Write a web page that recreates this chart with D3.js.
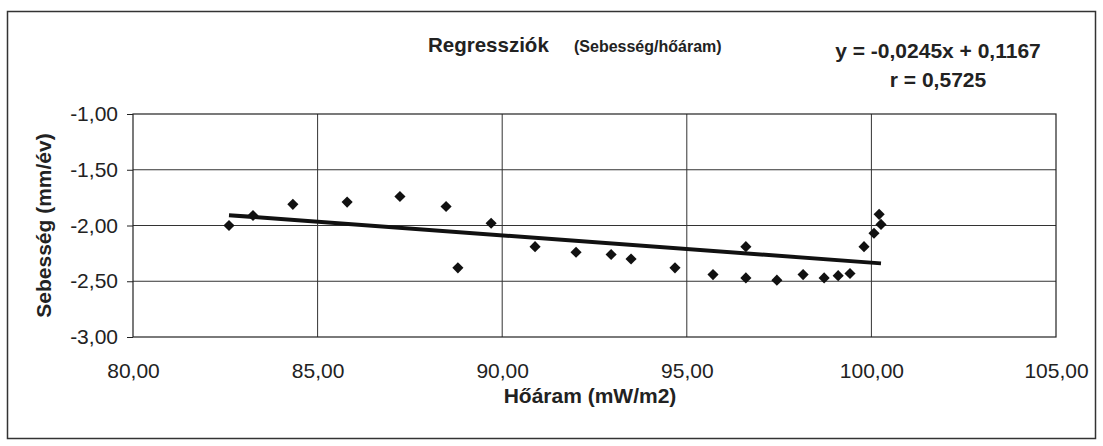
<!DOCTYPE html>
<html>
<head>
<meta charset="utf-8">
<script src="https://cdn.jsdelivr.net/npm/d3@7"></script>
<style>
  body { margin: 0; background: #fff; }
  text { font-family: "Liberation Sans", Arial, sans-serif; fill: #222; }
</style>
</head>
<body>
<div id="chart"></div>
<script>
// Data
var heatFlow = [82.60, 83.25, 84.33, 85.80, 87.23, 88.48, 88.80, 89.70, 90.89, 92.00,
                92.95, 93.49, 94.68, 95.71, 96.60, 96.60, 97.44, 98.15, 98.72, 99.10,
                99.42, 99.80, 100.07, 100.21, 100.26];
var speed = [-2.00, -1.91, -1.81, -1.79, -1.74, -1.83, -2.38, -1.98, -2.19, -2.24,
             -2.26, -2.30, -2.38, -2.44, -2.19, -2.47, -2.49, -2.44, -2.47, -2.45,
             -2.43, -2.19, -2.07, -1.90, -1.99];
var xTicks = [80, 85, 90, 95, 100, 105];
var yTicks = [-1.0, -1.5, -2.0, -2.5, -3.0];
var slope = -0.0245;
var intercept = 0.1167;
var titleText = "Regressziók";
var subtitleText = "(Sebesség/hőáram)";
var equationText = "y = -0,0245x + 0,1167";
var rText = "r = 0,5725";

var width = 1103, height = 446;
var plotLeft = 133, plotRight = 1056, plotTop = 114, plotBottom = 337;

var svg = d3.select("#chart").append("svg")
    .attr("width", width)
    .attr("height", height);

// outer frame
svg.append("rect")
    .attr("x", 7.5).attr("y", 11.5)
    .attr("width", 1088).attr("height", 427)
    .attr("fill", "none")
    .attr("stroke", "#333")
    .attr("stroke-width", 1.5);

var x = d3.scaleLinear().domain([80, 105]).range([plotLeft, plotRight]);
var y = d3.scaleLinear().domain([-3, -1]).range([plotBottom, plotTop]);

// Hungarian style numbers: comma decimal, plain hyphen minus
var fmt = function(d) {
    return (d < 0 ? "-" : "") + Math.abs(d).toFixed(2).replace(".", ",");
};

// gridlines
svg.append("g").selectAll("line")
    .data(xTicks.slice(1, -1))
    .enter().append("line")
    .attr("x1", d => x(d)).attr("x2", d => x(d))
    .attr("y1", plotTop).attr("y2", plotBottom)
    .attr("stroke", "#333").attr("stroke-width", 1);

svg.append("g").selectAll("line")
    .data(yTicks.slice(1, -1))
    .enter().append("line")
    .attr("x1", plotLeft).attr("x2", plotRight)
    .attr("y1", d => y(d)).attr("y2", d => y(d))
    .attr("stroke", "#333").attr("stroke-width", 1);

// plot frame
svg.append("rect")
    .attr("x", plotLeft).attr("y", plotTop)
    .attr("width", plotRight - plotLeft).attr("height", plotBottom - plotTop)
    .attr("fill", "none")
    .attr("stroke", "#222")
    .attr("stroke-width", 1.2);

// y axis
var yAxis = svg.append("g")
    .attr("transform", "translate(" + plotLeft + ",0)")
    .call(d3.axisLeft(y).tickValues(yTicks).tickFormat(fmt).tickSize(6).tickPadding(9));
yAxis.select(".domain").remove();
yAxis.selectAll("line").attr("stroke", "#222");
yAxis.selectAll("text")
    .style("font-family", "'Liberation Sans', Arial, sans-serif")
    .style("font-size", "21px")
    .attr("fill", "#222");

// x axis
var xAxis = svg.append("g")
    .attr("transform", "translate(0," + plotBottom + ")")
    .call(d3.axisBottom(x).tickValues(xTicks).tickFormat(fmt).tickSize(0).tickPadding(26));
xAxis.select(".domain").remove();
xAxis.selectAll("text")
    .style("font-family", "'Liberation Sans', Arial, sans-serif")
    .style("font-size", "21px")
    .attr("fill", "#222");

// regression line
var xr = d3.extent(heatFlow);
svg.append("line")
    .attr("x1", x(xr[0])).attr("y1", y(slope * xr[0] + intercept))
    .attr("x2", x(xr[1])).attr("y2", y(slope * xr[1] + intercept))
    .attr("stroke", "#111")
    .attr("stroke-width", 4);

// points
var diamond = d3.symbol().type(d3.symbolSquare).size(62);
svg.append("g").selectAll("path")
    .data(heatFlow.map((v, i) => [v, speed[i]]))
    .enter().append("path")
    .attr("d", diamond)
    .attr("transform", d => "translate(" + x(d[0]) + "," + y(d[1]) + ") rotate(45)")
    .attr("fill", "#111");

// titles
svg.append("text")
    .attr("x", 428).attr("y", 52)
    .style("font-size", "20.5px").style("font-weight", "bold")
    .text(titleText);
svg.append("text")
    .attr("x", 574).attr("y", 52)
    .style("font-size", "16px").style("font-weight", "bold")
    .text(subtitleText);
svg.append("text")
    .attr("x", 938).attr("y", 58)
    .attr("text-anchor", "middle")
    .style("font-size", "21px").style("font-weight", "bold")
    .text(equationText);
svg.append("text")
    .attr("x", 938).attr("y", 87)
    .attr("text-anchor", "middle")
    .style("font-size", "21px").style("font-weight", "bold")
    .text(rText);

// axis titles
svg.append("text")
    .attr("x", 590).attr("y", 403)
    .attr("text-anchor", "middle")
    .style("font-size", "21px").style("font-weight", "bold")
    .text("Hőáram (mW/m2)");
svg.append("text")
    .attr("transform", "translate(51," + ((plotTop + plotBottom) / 2) + ") rotate(-90)")
    .attr("text-anchor", "middle")
    .style("font-size", "21px").style("font-weight", "bold")
    .text("Sebesség (mm/év)");
</script>
</body>
</html>
